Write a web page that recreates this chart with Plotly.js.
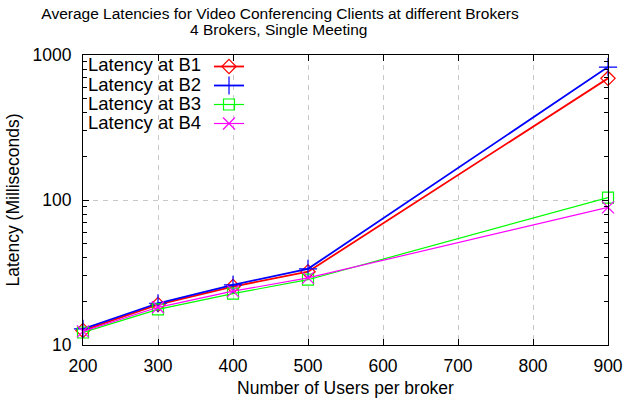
<!DOCTYPE html>
<html>
<head>
<meta charset="utf-8">
<script src="https://cdn.plot.ly/plotly-3.0.1.min.js"></script>
<style>html,body{margin:0;padding:0;background:#fff;}#chart{width:635px;height:402px;}</style>
</head>
<body>
<div id="chart"></div>
<script>
var users = [200, 300, 400, 500, 900];
var latencyB1 = [12.6, 19.0, 25.3, 32.0, 690];
var latencyB2 = [12.9, 19.4, 26.0, 33.5, 826];
var latencyB3 = [12.2, 17.6, 22.6, 28.2, 104];
var latencyB4 = [12.4, 18.2, 23.5, 29.0, 89];
var seriesNames = ['Latency at B1', 'Latency at B2', 'Latency at B3', 'Latency at B4'];
var xTicks = [200, 300, 400, 500, 600, 700, 800, 900];
var yTicks = [10, 100, 1000];
var yMinorTicks = [20, 30, 40, 50, 60, 70, 80, 90, 200, 300, 400, 500, 600, 700, 800, 900];

var FONT = 'Liberation Sans, Arial, sans-serif';

function mk(y, color, symbol, lw, size) {
  return {
    x: users, y: y, type: 'scatter', mode: 'lines+markers', name: ' ',
    cliponaxis: false,
    line: {color: color, width: lw},
    marker: {symbol: symbol, size: size, color: color, line: {color: color, width: 1.2}}
  };
}
var data = [
  mk(latencyB1, '#ff0000', 'diamond-open', 1.8, 11),
  mk(latencyB2, '#0000ff', 'cross-thin-open', 1.8, 13),
  mk(latencyB3, '#00ff00', 'square-open', 1.2, 11),
  mk(latencyB4, '#ff00ff', 'x-thin-open', 1.2, 12)
];

var plotL = 83, plotR = 608, plotT = 55, plotB = 345;
var rowsPx = [65, 84, 103, 122];
var annotations = seriesNames.map(function (n, i) {
  return {
    text: n, xref: 'paper', yref: 'paper',
    x: (203 - plotL) / (plotR - plotL), xanchor: 'right',
    y: (plotB - rowsPx[i]) / (plotB - plotT), yanchor: 'middle',
    showarrow: false, font: {family: FONT, size: 18.5, color: '#000'}
  };
});
annotations.push({
  text: '4 Brokers, Single Meeting', xref: 'paper', yref: 'paper',
  x: (278 - plotL) / (plotR - plotL), xanchor: 'center',
  y: (plotB - 30) / (plotB - plotT), yanchor: 'middle',
  showarrow: false, font: {family: FONT, size: 15.5, color: '#000'}
});

var layout = {
  width: 635, height: 402,
  margin: {l: plotL, r: 635 - plotR, t: plotT, b: 402 - plotB, pad: 0},
  paper_bgcolor: '#fff', plot_bgcolor: '#fff',
  font: {family: FONT, size: 17, color: '#000'},
  title: {
    text: 'Average Latencies for Video Conferencing Clients at different Brokers',
    font: {family: FONT, size: 15.5, color: '#000'},
    x: 280 / 635, xanchor: 'center', xref: 'container',
    y: 1 - 14 / 402, yanchor: 'middle', yref: 'container'
  },
  xaxis: {
    range: [200, 900], tickvals: xTicks, ticktext: xTicks.map(String),
    ticks: 'inside', ticklen: 6, tickcolor: '#000', tickwidth: 1,
    ticklabelstandoff: 5,
    showline: true, linecolor: '#000', linewidth: 1, mirror: 'allticks',
    showgrid: true, gridcolor: '#c8c8c8', gridwidth: 1, griddash: '5px,5px',
    zeroline: false,
    tickfont: {family: FONT, size: 17.5, color: '#000'},
    title: {text: 'Number of Users per broker', font: {family: FONT, size: 17.5, color: '#000'}, standoff: 6}
  },
  yaxis: {
    type: 'log', range: [1, 3], tickvals: yTicks, ticktext: yTicks.map(String),
    ticks: 'inside', ticklen: 6, tickcolor: '#000', tickwidth: 1,
    ticklabelstandoff: 7,
    minor: {tickmode: 'array', tickvals: yMinorTicks, ticks: 'inside', ticklen: 4, tickcolor: '#000', tickwidth: 1, showgrid: false},
    showline: true, linecolor: '#000', linewidth: 1, mirror: 'allticks',
    showgrid: true, gridcolor: '#c8c8c8', gridwidth: 1, griddash: '5px,5px',
    zeroline: false,
    tickfont: {family: FONT, size: 17.5, color: '#000'},
    title: {text: 'Latency (Milliseconds)', font: {family: FONT, size: 17.5, color: '#000'}, standoff: 8}
  },
  showlegend: true,
  legend: {
    x: (209 - plotL) / (plotR - plotL), xanchor: 'left',
    y: (plotB - 52) / (plotB - plotT), yanchor: 'top',
    bgcolor: 'rgba(0,0,0,0)', borderwidth: 0,
    font: {family: FONT, size: 10, color: '#000'},
    tracegroupgap: 0
  },
  annotations: annotations
};

Plotly.newPlot('chart', data, layout, {displayModeBar: false, staticPlot: true});
</script>
</body>
</html>
